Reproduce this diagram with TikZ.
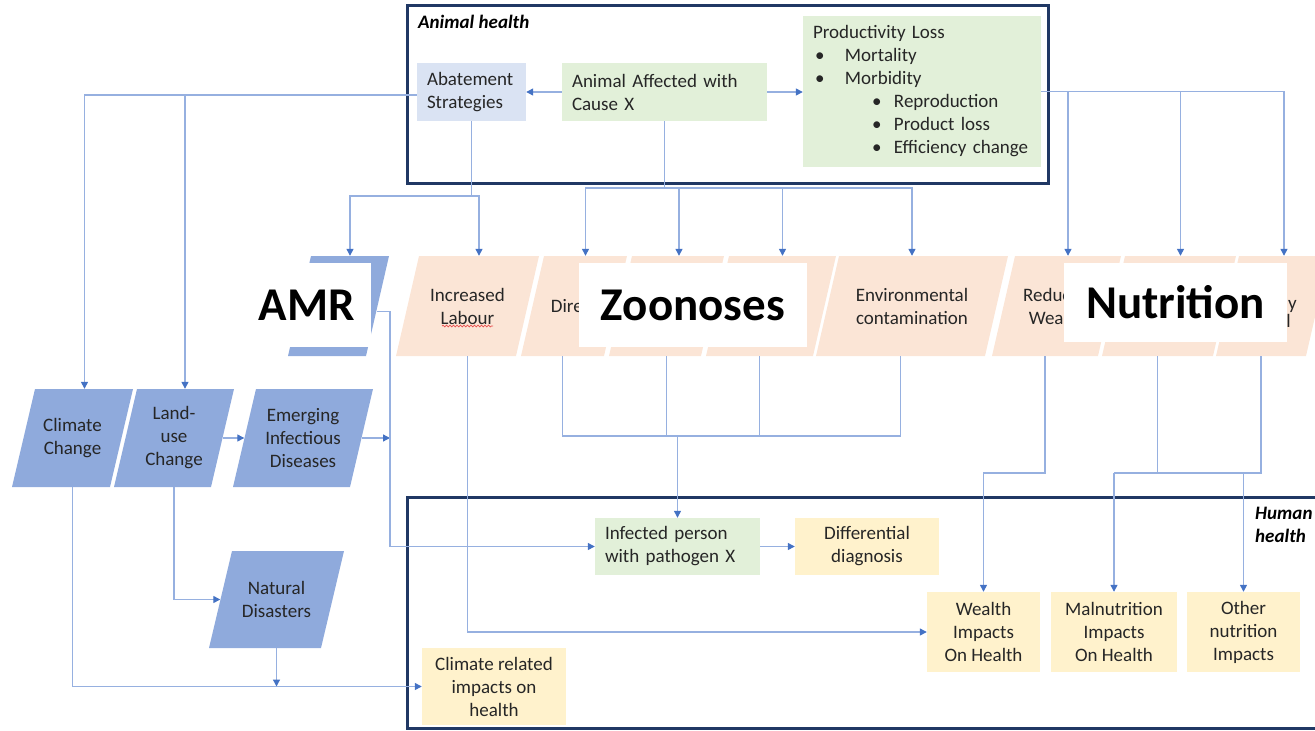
\documentclass[tikz,border=0pt]{standalone}
\usepackage{fontspec}
\setmainfont{Carlito}
\usetikzlibrary{arrows.meta,decorations.pathmorphing}

\definecolor{frameblue}{RGB}{32,56,100}
\definecolor{driverblue}{RGB}{143,170,220}
\definecolor{peach}{RGB}{251,229,214}
\definecolor{paleyellow}{RGB}{255,242,204}
\definecolor{palegreen}{RGB}{226,240,217}
\definecolor{paleblue}{RGB}{218,227,243}
\definecolor{linkblue}{RGB}{150,176,224}
\definecolor{tipblue}{RGB}{68,114,196}
\definecolor{spellred}{RGB}{232,80,80}

% slanted (parallelogram) box: name, bottom-left x, bottom-right x, top y, bottom y, fill, text
\newcommand{\slantbox}[7]{%
  \fill[#6] (#2,#5) -- (#3,#5) -- ({#3+23},#4) -- ({#2+23},#4) -- cycle;
  \node[txt, align=center, inner sep=0pt, minimum width={#3-#2+23}, minimum height={#5-#4}]
    (#1) at ({(#2+#3)/2+11.5},{(#4+#5)/2}) {#7};
}

\tikzset{
  txt/.style={font=\fontsize{19}{23}\selectfont, text=black!85},
  plainbox/.style={txt, inner sep=0pt, align=center},
  leftbox/.style={txt, inner ysep=0pt, inner xsep=10pt, align=left},
  frame/.style={draw=frameblue, line width=3pt, inner sep=0pt},
  tag/.style={fill=white, inner sep=0pt, font=\fontsize{47}{56}\selectfont\bfseries},
  heading/.style={font=\fontsize{19}{23}\selectfont\bfseries\itshape, inner sep=0pt, align=left},
  link/.style={draw=linkblue, line width=1.3pt},
  arr/.style={link, -{Triangle[length=7pt,width=7pt,color=tipblue]}}
}

\begin{document}
\begin{tikzpicture}[x=1pt,y=-1pt]
\useasboundingbox (0,0) rectangle (1315,731);

% ---------------- frames ----------------
\node[frame, minimum width=641, minimum height=178] (animalframe) at (727.5,94) {};
\node[frame, minimum width=923, minimum height=231] (humanframe) at (868.5,612.5) {};
\node[heading, anchor=west] (animallabel) at (418,22) {Animal health};
\node[heading, anchor=north west] (humanlabel) at (1255,507) {Human\\health};

% ---------------- animal health boxes ----------------
\node[leftbox, fill=paleblue, text width=89pt, minimum height=58] (abate) at (471.5,92)
  {Abatement\\Strategies};
\node[leftbox, fill=palegreen, text width=185pt, minimum height=58] (aff) at (664.5,92)
  {Animal Affected with\\Cause X};
\node[leftbox, fill=palegreen, text width=218pt, minimum height=151] (prod) at (922,91.5)
  {Productivity Loss\\
   \hspace*{2pt}\makebox[30pt][l]{\textbullet}Mortality\\
   \hspace*{2pt}\makebox[30pt][l]{\textbullet}Morbidity\\
   \hspace*{59pt}\makebox[22pt][l]{\textbullet}Reproduction\\
   \hspace*{59pt}\makebox[22pt][l]{\textbullet}Product loss\\
   \hspace*{59pt}\makebox[22pt][l]{\textbullet}Efficiency change};

% ---------------- pathway row ----------------
\slantbox{amr}{288}{366}{256}{356}{driverblue}{}
\slantbox{lab}{396}{516}{256}{356}{peach}{Increased\\Labour}
\slantbox{dir}{521}{604}{256}{356}{peach}{Direct}
\slantbox{zoo3}{609}{701}{256}{356}{peach}{}
\slantbox{zoo4}{706}{813}{256}{356}{peach}{}
\slantbox{env}{816}{985}{256}{356}{peach}{Environmental\\contamination}
\slantbox{redw}{992}{1098}{256}{356}{peach}{Reduced\\Wealth}
\slantbox{nut2}{1102}{1213}{256}{356}{peach}{}
\slantbox{nut3}{1216}{1306}{256}{356}{peach}{}
% word endings left visible beside the Nutrition tag
\node[txt, anchor=base east, inner sep=0pt] (nut3a) at (1297,309) {y};
\node[txt, anchor=base east, inner sep=0pt] (nut3b) at (1291,327) {l};
% spell-check underline under "Labour"
\draw[spellred, line width=0.7pt, decorate,
      decoration={snake, amplitude=0.9pt, segment length=3.5pt}]
  ([xshift=-25.5pt,yshift=-20pt]lab.center) coordinate (squigA) -- ++(51,0) coordinate (squigB);

% ---------------- drivers ----------------
\slantbox{clim}{12}{110}{389}{487}{driverblue}{Climate\\Change}
\slantbox{land}{114}{211}{389}{487}{driverblue}{Land-\\use\\Change}
\slantbox{emer}{233}{350}{389}{487}{driverblue}{Emerging\\Infectious\\Diseases}
\slantbox{nat}{209}{321}{551}{648}{driverblue}{Natural\\Disasters}

% ---------------- human health boxes ----------------
\node[leftbox, fill=palegreen, text width=145pt, minimum height=57] (inf) at (677.5,546.5)
  {Infected person\\with pathogen X};
\node[plainbox, fill=paleyellow, minimum width=144, minimum height=57] (diff) at (867,546.5)
  {Differential\\diagnosis};
\node[plainbox, fill=paleyellow, minimum width=113, minimum height=80] (wealth) at (983.5,632)
  {Wealth\\Impacts\\On Health};
\node[plainbox, fill=paleyellow, minimum width=126, minimum height=80] (maln) at (1114,632)
  {Malnutrition\\Impacts\\On Health};
\node[plainbox, fill=paleyellow, minimum width=113, minimum height=80] (other) at (1243.5,632)
  {Other\\nutrition\\Impacts};
\node[plainbox, fill=paleyellow, minimum width=144, minimum height=77] (climrel) at (494,686.5)
  {Climate related\\impacts on\\health};

% ---------------- connectors: animal health ----------------
\draw[arr] (aff.west) -- (abate.east);
\draw[arr] (aff.east) -- (prod.west |- aff.east);

\draw[arr] ([yshift=-3pt]abate.west) -| ([xshift=12pt]clim.north);
\draw[arr] ([yshift=-3pt]abate.west) -| ([xshift=11pt]land.north);

\coordinate (abj) at (471.5,196);
\draw[link] (abate.south) -- (abj);
\draw[arr] (abj) -| ([xshift=11.5pt]amr.north);
\draw[arr] (abj) -| ([xshift=11.5pt]lab.north);

\coordinate (afj) at (664.5,188);
\draw[link] (aff.south) -- (afj);
\draw[arr] (afj) -| ([xshift=11.5pt]dir.north);
\draw[arr] (afj) -| ([xshift=12.5pt]zoo3.north);
\draw[arr] (afj) -| ([xshift=11.5pt]zoo4.north);
\draw[arr] (afj) -| (env.north);

\draw[arr] (prod.east) -| ([xshift=11.5pt]redw.north);
\draw[arr] (prod.east) -| ([xshift=11.5pt]nut2.north);
\draw[arr] (prod.east) -| ([xshift=11.5pt]nut3.north);

% ---------------- connectors: drivers ----------------
\coordinate (amrj) at (390,438);
\draw[arr] ([xshift=-11.5pt]land.east) -- ([xshift=11.5pt]emer.west);
\draw[arr] ([xshift=-11.5pt]emer.east) -- (amrj);
\draw[arr] ([xshift=-12pt,yshift=-5.5pt]amr.east) -| (amrj |- inf.west) -- (inf.west);
\draw[arr] (land.south) |- ([xshift=11.5pt]nat.west);
\draw[arr] (clim.south) |- (climrel.west);
\draw[arr] (nat.south) -- (nat.south |- climrel.west);

% ---------------- connectors: pathways to human health ----------------
\draw[arr] (lab.south) |- (wealth.west);

\coordinate (zj) at (677.5,436);
\draw[link] ([xshift=-11.5pt]dir.south) |- (zj);
\draw[link] ([xshift=-11.5pt]env.south) |- (zj);
\draw[link] (zoo3.south) -- ++(0,80);
\draw[link] ([xshift=-11.5pt]zoo4.south) -- ++(0,80);
\draw[arr] (zj) -- (inf.north);
\draw[arr] (inf.east) -- (diff.west);

\coordinate (wj) at (983.5,473);
\coordinate (mj) at (1114,473);
\coordinate (oj) at (1243.5,473);
\draw[arr] ([xshift=-11.5pt]redw.south) |- (wj) -- (wealth.north);
\draw[link] ([xshift=-11.5pt]nut2.south) |- (mj);
\draw[link] ([xshift=-11.5pt]nut3.south) |- (mj);
\draw[arr] (mj) -- (maln.north);
\draw[arr] (oj) -- (other.north);

% ---------------- theme tags ----------------
\node[tag, minimum width=128, minimum height=84] (amrtag) at (307,305) {AMR\hspace{14pt}};
\node[tag, minimum width=228, minimum height=84] (zootag) at (693,305) {Zoonoses};
\node[tag, minimum width=223, minimum height=79] (nuttag) at (1175.5,302.5) {Nutrition};
\end{tikzpicture}
\end{document}
